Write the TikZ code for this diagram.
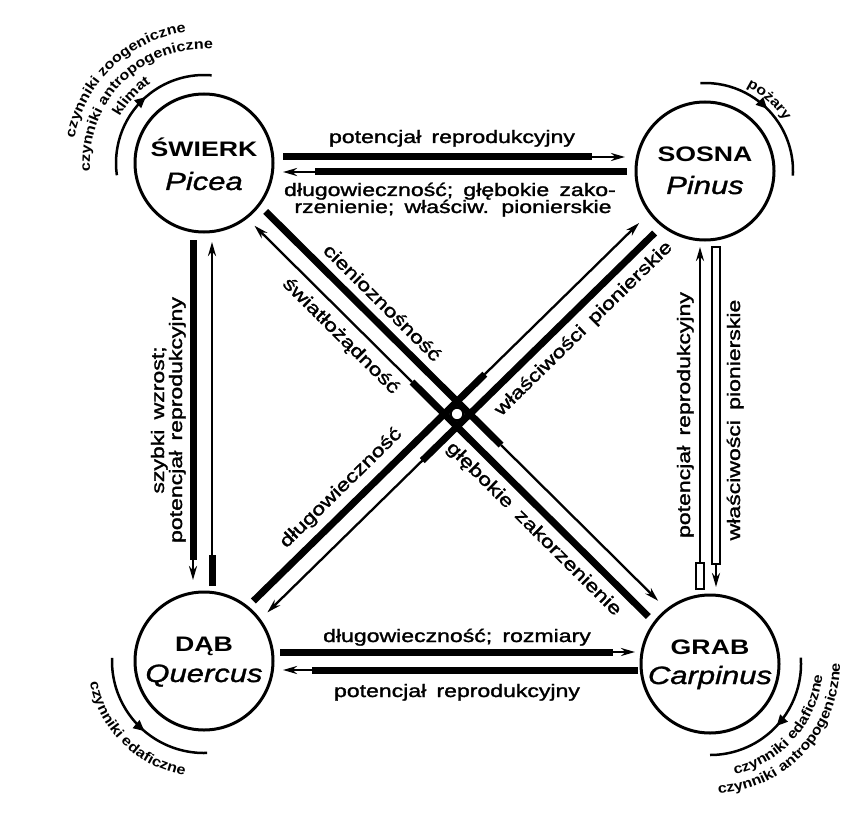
\documentclass[tikz,border=0pt]{standalone}
\usepackage{fontspec}
\setmainfont{Liberation Sans}
\newfontfamily\labfont[FakeStretch=1.28,FakeBold=1.6,WordSpace=1.6]{Liberation Sans}
\newfontfamily\nmfont[FakeStretch=1.27]{Liberation Sans}
\newfontfamily\spfnt[FakeStretch=1.24,FakeBold=1.2]{Liberation Sans}
\newfontfamily\arcfnt[FakeStretch=1.15]{Liberation Sans}
\usetikzlibrary{arrows.meta,decorations.text,decorations.markings,calc}
\newcommand\labsize{\labfont\fontsize{18}{18}\selectfont}
\newcommand\namesize{\nmfont\bfseries\fontsize{21}{21}\selectfont}
\newcommand\spsize{\spfnt\itshape\fontsize{25}{25}\selectfont}
\newcommand\arcstyle{\arcfnt\bfseries\fontsize{14}{14}\selectfont}
\begin{document}
\begin{tikzpicture}[x=1pt,y=1pt,
  ring/.style={circle, draw, line width=3pt, minimum size=138pt, inner sep=0pt},
  nm/.style={font=\namesize, anchor=base, inner sep=0pt},
  sp/.style={font=\spsize, anchor=base, inner sep=0pt},
  lab/.style={font=\labsize, inner sep=0pt},
  thickbar/.style={line width=7pt},
  thinarr/.style={line width=2.3pt, -{Stealth[length=14pt,width=8pt]}},
  hollowout/.style={line width=10pt},
  hollowin/.style={line width=6.5pt, white, shorten <=1.8pt, shorten >=1.8pt},
  arcline/.style={line width=2.5pt},
  arcmark/.style={postaction={decorate}, decoration={markings, mark=at position #1 with {\arrow{Triangle[length=11pt,width=10pt]}}}},
  arctext/.style={decorate, decoration={text along path, text align=center, text={|\arcstyle|#1}}},
]
\fill[white] (0,0) rectangle (851,-813);
\useasboundingbox (0,0) rectangle (851,-813);

% species circles
\node[ring] (sw) at (204,-163) {};
\node[ring] (so) at (705,-171) {};
\node[ring] (db) at (204,-661) {};
\node[ring] (gr) at (710,-664) {};
\node[nm] (swn) at (204,-157) {ŚWIERK};
\node[sp] (swl) at (204,-190) {Picea};
\node[nm] (son) at (705,-162) {SOSNA};
\node[sp] (sol) at (705,-194) {Pinus};
\node[nm] (dbn) at (204,-651) {DĄB};
\node[sp] (dbl) at (204,-682) {Quercus};
\node[nm] (grn) at (710,-654) {GRAB};
\node[sp] (grl) at (710,-684) {Carpinus};

% connector end points
\coordinate (t1a) at (283,-157); \coordinate (t1m) at (592,-157); \coordinate (t1b) at (625,-157);
\coordinate (t2a) at (627,-172); \coordinate (t2m) at (315,-172); \coordinate (t2b) at (283,-172);
\coordinate (b1a) at (280,-652); \coordinate (b1m) at (613,-652); \coordinate (b1b) at (635,-652);
\coordinate (b2a) at (638,-670); \coordinate (b2m) at (312,-670); \coordinate (b2b) at (283,-670);
\coordinate (l1a) at (193,-240); \coordinate (l1m) at (193,-560); \coordinate (l1b) at (193,-580);
\coordinate (l2a) at (212,-586); \coordinate (l2m) at (212,-555); \coordinate (l2b) at (212,-242);
\coordinate (r1a) at (700,-590); \coordinate (r1m) at (700,-562); \coordinate (r1b) at (700,-247);
\coordinate (r2a) at (716,-246); \coordinate (r2m) at (716,-565); \coordinate (r2b) at (716,-587);
\coordinate (d1a) at (265.7,-211.5); \coordinate (d1m) at (501.1,-445.1); \coordinate (d1b) at (658.1,-600.8);
\coordinate (d2a) at (648.3,-616.5); \coordinate (d2m) at (412.0,-382.0); \coordinate (d2b) at (254.5,-225.7);
\coordinate (e1a) at (253.4,-601.0); \coordinate (e1m) at (484.8,-374.2); \coordinate (e1b) at (639.1,-223.0);
\coordinate (e2a) at (654.6,-233.0); \coordinate (e2m) at (422.3,-460.6); \coordinate (e2b) at (267.4,-612.4);

% horizontal pairs
\draw[thickbar] (t1a) -- (t1m); \draw[thinarr] (t1m) -- (t1b);
\draw[thickbar] (t2a) -- (t2m); \draw[thinarr] (t2m) -- (t2b);
\draw[thickbar] (b1a) -- (b1m); \draw[thinarr] (b1m) -- (b1b);
\draw[thickbar] (b2a) -- (b2m); \draw[thinarr] (b2m) -- (b2b);
% left vertical pair
\draw[thickbar] (l1a) -- (l1m); \draw[thinarr] (l1m) -- (l1b);
\draw[thickbar] (l2a) -- (l2m); \draw[thinarr] (l2m) -- (l2b);
% right vertical pair (hollow bars)
\draw[thinarr] (r1m) -- (r1b);
\draw[hollowout] (r1a) -- (r1m); \draw[hollowin] (r1a) -- (r1m);
\draw[thinarr] (r2m) -- (r2b);
\draw[hollowout] (r2a) -- (r2m); \draw[hollowin] (r2a) -- (r2m);
% diagonals
\draw[thickbar] (d1a) -- (d1m); \draw[thinarr] (d1m) -- (d1b);
\draw[thickbar] (d2a) -- (d2m); \draw[thinarr] (d2m) -- (d2b);
\draw[thickbar] (e1a) -- (e1m); \draw[thinarr] (e1m) -- (e1b);
\draw[thickbar] (e2a) -- (e2m); \draw[thinarr] (e2m) -- (e2b);
\node[circle, fill=white, draw, line width=2.5pt, minimum size=13pt, inner sep=0pt] (cross) at (457,-414) {};

% labels of connectors
\node[lab, anchor=base] (lt1) at (452,-143) {potencjał reprodukcyjny};
\node[lab, anchor=base] (lt2) at (450,-196) {długowieczność; głębokie zako-};
\node[lab, anchor=base] (lt3) at (453,-213) {rzenienie; właściw. pionierskie};
\node[lab, anchor=base] (lb1) at (457,-642) {długowieczność; rozmiary};
\node[lab, anchor=base] (lb2) at (457,-697) {potencjał reprodukcyjny};
\node[lab, anchor=base, rotate=90] (ll1) at (164,-420) {szybki wzrost;};
\node[lab, anchor=base, rotate=90] (ll2) at (182,-420) {potencjał reprodukcyjny};
\node[lab, anchor=base, rotate=90] (lr1) at (690,-415) {potencjał reprodukcyjny};
\node[lab, anchor=base, rotate=90] (lr2) at (740,-420) {właściwości pionierskie};
\node[lab, rotate=-44.8] (ld1) at (382.7,-302.4) {cienioznośność};
\node[lab, rotate=-44.8] (ld2) at (340.5,-336.4) {światłożądność};
\node[lab, rotate=-44.8] (ld3) at (533.6,-529.4) {głębokie zakorzenienie};
\node[lab, rotate=44.4] (le1) at (341.2,-488.3) {długowieczność};
\node[lab, rotate=44.4] (le2) at (583.9,-328.9) {właściwości pionierskie};

% factor arcs
\draw[arcline, arcmark=0.55] ($(sw)+(188:88pt)$) arc[start angle=188, end angle=85, radius=88pt];
\path[arctext={klimat}] ($(sw)+(175:96pt)$) arc[start angle=175, end angle=100, radius=96pt];
\path[arctext={czynniki antropogeniczne}] ($(sw)+(215:114pt)$) arc[start angle=215, end angle=55, radius=114pt];
\path[arctext={czynniki zoogeniczne}] ($(sw)+(213.5:132pt)$) arc[start angle=213.5, end angle=53.5, radius=132pt];

\draw[arcline, arcmark=0.5] ($(so)+(93:88pt)$) arc[start angle=93, end angle=-3, radius=88pt];
\path[arctext={pożary}] ($(so)+(100:94pt)$) arc[start angle=100, end angle=-4, radius=94pt];

\draw[arcline, arcmark=0.55] ($(db)+(178:92pt)$) arc[start angle=178, end angle=272, radius=92pt];
\path[arctext={czynniki edaficzne}] ($(db)+(160:116pt)$) arc[start angle=160, end angle=291, radius=116pt];

\draw[arcline, arcmark=0.5] ($(gr)+(4:91pt)$) arc[start angle=4, end angle=-90, radius=91pt];
\path[arctext={czynniki edaficzne}] ($(gr)+(-100:113pt)$) arc[start angle=-100, end angle=17, radius=113pt];
\path[arctext={czynniki antropogeniczne}] ($(gr)+(-130:130pt)$) arc[start angle=-130, end angle=44, radius=130pt];
\end{tikzpicture}
\end{document}
